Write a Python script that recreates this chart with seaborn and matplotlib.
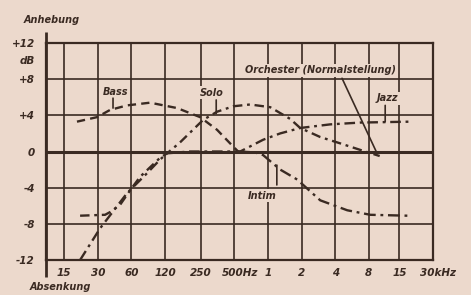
import numpy as np
import pandas as pd
import matplotlib
matplotlib.use("Agg")
import matplotlib.pyplot as plt
import matplotlib.transforms as mtransforms
from matplotlib.ticker import NullLocator
import seaborn as sns

# ---------------- data ----------------
x_ticks = [15, 30, 60, 120, 250, 500, 1000, 2000, 4000, 8000, 15000, 30000]
x_ticklabels = ["15", "30", "60", "120", "250", "500Hz", "1", "2", "4", "8", "15", "30kHz"]
y_ticks = [-12, -8, -4, 0, 4, 8, 12]
y_ticklabels = ["-12", "-8", "-4", "0", "+4", "+8", "+12"]

orchester_f = [10.3, 30000]
orchester_db = [0, 0]

bass_f = [19.5, 29.5, 38.6, 54.8, 88, 154, 247, 350, 458, 540]
bass_db = [3.3, 3.8, 4.6, 5.1, 5.4, 4.8, 3.8, 2.4, 0.9, 0.0]

intim_f = [540, 768, 905, 1286, 1826, 2936, 5123, 8233, 17700]
intim_db = [0.0, -0.1, -0.4, -2.0, -3.1, -5.4, -6.5, -7.0, -7.1]

solo_f = [20.8, 34.8, 38.6, 47.4, 58.3, 71.6, 108, 125, 163, 201, 263, 350, 488,
          692, 1047, 1581, 1943, 2936, 4431, 7000, 10000]
solo_db = [-7.1, -7.0, -6.7, -5.9, -4.3, -2.8, -0.7, -0.2, 1.0, 2.1, 3.5, 4.4, 5.0,
           5.2, 4.9, 3.6, 2.6, 1.6, 0.9, 0.1, -0.5]

jazz_f = [20.8, 31.4, 54.8, 82.7, 108, 125, 200, 400, 564, 905, 1286, 1943, 3606, 6700, 18800]
jazz_db = [-12, -8.5, -4.6, -2.4, -0.9, -0.2, 0, 0, 0, 1.3, 2.0, 2.6, 3.0, 3.2, 3.3]

# ---------------- style ----------------
BG = "#ecd9cc"
INK = "#3a2a22"

sns.set_theme(style="white")
plt.rcParams["font.family"] = ["DejaVu Sans"]
plt.rcParams["figure.facecolor"] = BG
plt.rcParams["axes.facecolor"] = BG

fig = plt.figure(figsize=(4.71, 2.95), dpi=100)
ax = fig.add_axes([46 / 471, 35 / 295, (433 - 46) / 471, 217 / 295])
ax.set_facecolor(BG)

ax.set_xscale("log")
ax.set_xlim(10.3, 30000)
ax.set_ylim(-12, 12)

ax.set_xticks(x_ticks)
ax.set_xticklabels(x_ticklabels)
ax.xaxis.set_minor_locator(NullLocator())
ax.set_yticks(y_ticks)
ax.set_yticklabels(y_ticklabels)

tick_font = dict(fontsize=7.5, fontweight="bold", fontstyle="italic", color=INK)
for lab in ax.get_xticklabels() + ax.get_yticklabels():
    lab.set_fontsize(7.5)
    lab.set_fontweight("bold")
    lab.set_fontstyle("italic")
    lab.set_color(INK)
ax.tick_params(axis="both", length=0)
ax.tick_params(axis="y", pad=8)
ax.tick_params(axis="x", pad=6)

# labels with unit suffix: keep number centred on the grid line
for lab in ax.get_xticklabels():
    if lab.get_text() in ("500Hz", "30kHz"):
        lab.set_horizontalalignment("left")
        off = mtransforms.ScaledTranslation(-9 / 72, 0, fig.dpi_scale_trans)
        lab.set_transform(lab.get_transform() + off)

ax.grid(True, color=INK, linewidth=1.2)
for s in ax.spines.values():
    s.set_color(INK)
    s.set_linewidth(1.6)

# extended left axis
ax.plot([0, 0], [-0.08, 1.05], transform=ax.transAxes, clip_on=False,
        color=INK, lw=2.0, solid_capstyle="butt")

# ---------------- curves ----------------
sns.lineplot(x=orchester_f, y=orchester_db, ax=ax, color=INK, lw=2.2,
             estimator=None, sort=False)
sns.lineplot(x=bass_f, y=bass_db, ax=ax, color=INK, lw=1.7, dashes=False,
             estimator=None, sort=False).lines[-1].set_dashes((3.5, 2.2))
sns.lineplot(x=intim_f, y=intim_db, ax=ax, color=INK, lw=1.7,
             estimator=None, sort=False).lines[-1].set_dashes((5, 2, 1.2, 2))
sns.lineplot(x=solo_f, y=solo_db, ax=ax, color=INK, lw=1.7,
             estimator=None, sort=False).lines[-1].set_dashes((4, 2, 1.2, 2))
sns.lineplot(x=jazz_f, y=jazz_db, ax=ax, color=INK, lw=1.7,
             estimator=None, sort=False).lines[-1].set_dashes((4.5, 2, 1.2, 2))

ax.set_xlabel("")
ax.set_ylabel("")

# ---------------- annotations ----------------
lab_kw = dict(fontsize=7, fontweight="bold", fontstyle="italic", color=INK,
              ha="center", va="center",
              bbox=dict(boxstyle="square,pad=0.15", fc=BG, ec="none"))
line_kw = dict(arrowstyle="-", color=INK, lw=1.2, shrinkA=0, shrinkB=0)

ax.text(42.8, 6.6, "Bass", **lab_kw)
ax.annotate("", xy=(41, 4.8), xytext=(41, 5.9), arrowprops=line_kw)

ax.text(316, 6.5, "Solo", **lab_kw)
ax.annotate("", xy=(344, 4.2), xytext=(344, 5.7), arrowprops=line_kw)

ax.text(2936, 9.0, "Orchester (Normalstellung)", **lab_kw)
ax.annotate("", xy=(9300, 0), xytext=(4600, 8.1), arrowprops=line_kw)

ax.text(11700, 5.9, "Jazz", **lab_kw)
ax.annotate("", xy=(11200, 3.3), xytext=(11200, 5.1), arrowprops=line_kw)

ax.text(886, -4.9, "Intim", **lab_kw)
ax.annotate("", xy=(1200, -1.5), xytext=(1200, -3.7), arrowprops=line_kw)

ax.annotate("dB", xy=(0, 10), xycoords=("axes fraction", "data"),
            xytext=(-8, 0), textcoords="offset points",
            ha="right", va="center", fontsize=7.5, fontweight="bold",
            fontstyle="italic", color=INK)

fig.text(52 / 471, 1 - 20 / 295, "Anhebung", ha="center", va="center",
         fontsize=7, fontweight="bold", fontstyle="italic", color=INK)
fig.text(60 / 471, 1 - 287 / 295, "Absenkung", ha="center", va="center",
         fontsize=7, fontweight="bold", fontstyle="italic", color=INK)

fig.savefig("out.png", dpi=100, facecolor=BG)
